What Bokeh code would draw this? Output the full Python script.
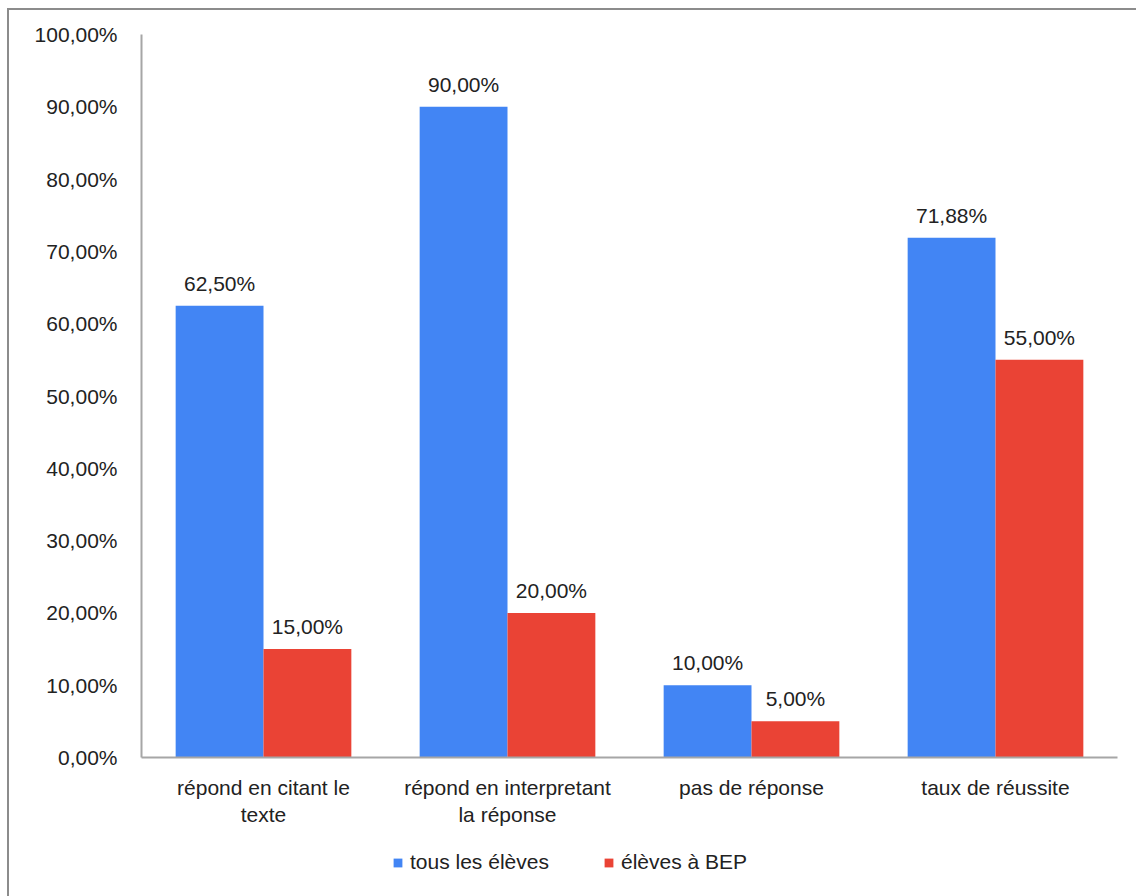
from bokeh.plotting import figure
from bokeh.layouts import column
from bokeh.models import ColumnDataSource, FixedTicker, Legend, LegendItem, LabelSet
from bokeh.transform import dodge
from bokeh.core.properties import value
from bokeh.embed import file_html
from bokeh.resources import INLINE

categories = ["répond en citant le\ntexte", "répond en interpretant\nla réponse", "pas de réponse", "taux de réussite"]
tous = [62.50, 90.00, 10.00, 71.88]
bep = [15.00, 20.00, 5.00, 55.00]
series_names = ["tous les élèves", "élèves à BEP"]
colors = ["#4285F4", "#EA4335"]
y_ticks = [0, 10, 20, 30, 40, 50, 60, 70, 80, 90, 100]

def fmt(v):
    return f"{v:.2f}%".replace(".", ",")

src = ColumnDataSource(dict(
    cat=categories, tous=tous, bep=bep,
    tous_lbl=[fmt(v) for v in tous], bep_lbl=[fmt(v) for v in bep],
))

FONT = "Liberation Sans"
TXT = "#222222"
FS = "21px"

p = figure(x_range=categories, y_range=(0, 100), width=1127, height=827,
           output_backend="svg", toolbar_location=None,
           min_border_left=132, min_border_top=24, min_border_right=19, min_border_bottom=80)
p.outline_line_color = None
p.xgrid.grid_line_color = None
p.ygrid.grid_line_color = None

b1 = p.vbar(x=dodge("cat", -0.18, range=p.x_range), top="tous", width=0.36, source=src,
            fill_color=colors[0], line_color=None)
b2 = p.vbar(x=dodge("cat", 0.18, range=p.x_range), top="bep", width=0.36, source=src,
            fill_color=colors[1], line_color=None)

for col, lbl, off in (("tous", "tous_lbl", -0.18), ("bep", "bep_lbl", 0.18)):
    ls = LabelSet(x=dodge("cat", off, range=p.x_range), y=col, text=lbl, source=src,
                  text_align="center", text_baseline="bottom", y_offset=11,
                  text_font=value(FONT), text_font_size=FS, text_color=TXT)
    p.add_layout(ls)

p.yaxis.ticker = FixedTicker(ticks=y_ticks)
p.yaxis.major_label_overrides = {t: fmt(t) for t in y_ticks}
for ax in (p.xaxis, p.yaxis):
    ax.axis_line_color = "#a6a6a6"
    ax.axis_line_width = 2
    ax.major_tick_line_color = None
    ax.minor_tick_line_color = None
    ax.major_label_text_font = FONT
    ax.major_label_text_font_size = FS
    ax.major_label_text_color = TXT
p.yaxis.major_label_standoff = 18
p.xaxis.major_label_standoff = 12

# legend strip (keys only; no data drawn here)
lp = figure(width=1127, height=59, x_range=(0, 1), y_range=(0, 1),
            x_axis_type=None, y_axis_type=None,
            output_backend="svg", toolbar_location=None, min_border=0)
lp.outline_line_color = None
lp.xgrid.grid_line_color = None
lp.ygrid.grid_line_color = None
nan = float("nan")
r1 = lp.vbar(x=[nan], top=[nan], width=0.1, fill_color=colors[0], line_color=None)
r2 = lp.vbar(x=[nan], top=[nan], width=0.1, fill_color=colors[1], line_color=None)
legend = Legend(items=[LegendItem(label=series_names[0], renderers=[r1]),
                       LegendItem(label=series_names[1], renderers=[r2])],
                orientation="horizontal", location=(251, 22),
                glyph_width=11, glyph_height=11, label_standoff=7,
                label_width=163, spacing=30,
                padding=0, margin=0, border_line_color=None, background_fill_alpha=0,
                label_text_font=FONT, label_text_font_size=FS, label_text_color=TXT)
lp.add_layout(legend, "center")

layout = column(p, lp, spacing=0, margin=(8, 0, 0, 7),
                styles={"border-left": "2px solid #8c8c8c", "border-top": "2px solid #8c8c8c"})

open("out.html", "w").write(file_html(layout, INLINE))
